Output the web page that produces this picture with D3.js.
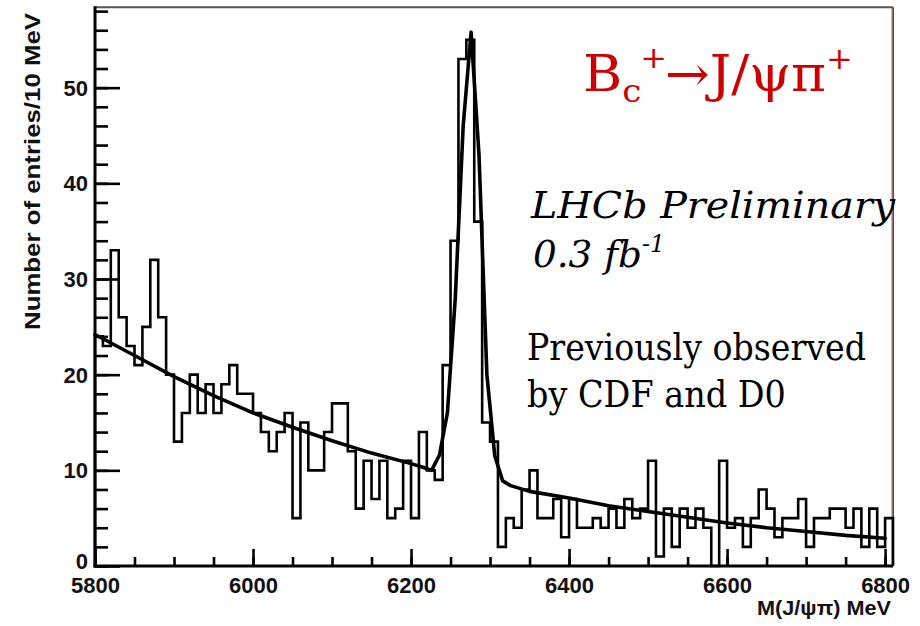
<!DOCTYPE html>
<html><head><meta charset="utf-8">
<script src="https://cdn.jsdelivr.net/npm/d3@7"></script>
<style>html,body{margin:0;padding:0;background:#fff;}svg{display:block}</style>
</head><body><svg id="c" width="920" height="626"></svg>
<script>
// ---- data ----
const binLow = 5800;          // MeV, lower edge of first bin
const binWidth = 10;          // MeV per bin
const counts = [
  24,23,33,26,23,21,25,32,26,20,
  13,16,20,16,19,16,19,21,18,18,
  16,14,12,14,16, 5,15,10,10,14,
  17,17,12, 6,11, 7,11, 5, 6,11,
   5,14,10, 9,21,34,53,55,36,15,
  13, 2, 5, 4, 8,10, 5, 5, 7, 3,
   7, 4, 4, 5, 4, 6, 4, 7, 5, 6,
  11, 1, 6, 2, 6, 4, 6, 4, 0,11,
   4, 5, 2, 5, 8, 6, 3, 5, 5, 7,
   2, 5, 5, 6, 6, 4, 6, 2, 6, 2,
   5
];
const fitMass  = [5800,5850,5900,5950,6000,6050,6100,6150,6200,6216,6226,6236,6246,6256,6266,6276,6286,6296,6306,6316,6326,6350,6400,6450,6500,6550,6600,6650,6700,6750,6800];
const fitValue = [24.2,22.0,19.8,17.8,16.0,14.5,13.1,11.8,10.7,10.3,10.0,11.6,16.0,28.0,46.0,55.8,43.0,20.0,11.5,8.9,8.4,7.8,7.1,6.3,5.7,5.1,4.5,4.0,3.6,3.2,2.9];
const xTickLabels = [5800,6000,6200,6400,6600,6800];
const xMinorStep = 50;
const yTickLabels = [0,10,20,30,40,50];
const yMinorStep = 2;
const xTitle = "M(J/\u03C8\u03C0) MeV";
const yTitle = "Number of entries/10 MeV";

// ---- layout ----
const svg = d3.select("#c");
const L = 95, R = 893, T = 7.3, B = 566;
const x = d3.scaleLinear().domain([5800, 6810]).range([L, R]);
const y = d3.scaleLinear().domain([0, 58.4]).range([B, T]);

// frame (top + right)
svg.append("line").attr("x1", L).attr("x2", R).attr("y1", T).attr("y2", T)
  .attr("stroke", "#555").attr("stroke-width", 2);
svg.append("line").attr("x1", R - 0.8).attr("x2", R - 0.8).attr("y1", T).attr("y2", B)
  .attr("stroke", "#666").attr("stroke-width", 1.2);
svg.append("line").attr("x1", R + 0.4).attr("x2", R + 0.4).attr("y1", T).attr("y2", B)
  .attr("stroke", "#e01010").attr("stroke-width", 1.2);

// histogram outline
const pts = [];
counts.forEach((c, i) => {
  const a = binLow + i * binWidth, b = a + binWidth;
  pts.push([a, c]); pts.push([b, c]);
});
pts.unshift([binLow, 0]);
pts.push([binLow + counts.length * binWidth, 0]);
svg.append("path")
  .attr("d", d3.line().x(d => x(d[0])).y(d => y(d[1]))(pts))
  .attr("fill", "none").attr("stroke", "#000").attr("stroke-width", 2.6)
  .attr("stroke-linejoin", "miter");

// fit curve
svg.append("path")
  .attr("d", d3.line().x((d, i) => x(fitMass[i])).y((d, i) => y(fitValue[i])).curve(d3.curveLinear)(fitMass))
  .attr("fill", "none").attr("stroke", "#000").attr("stroke-width", 3.6)
  .attr("stroke-linejoin", "round").attr("stroke-linecap", "round");

// axes
const axFont = "'Liberation Sans', Arial, Helvetica, sans-serif";
const yMinor = d3.range(0, 58.4 + 0.001, yMinorStep);
const xMinor = d3.range(5800, 6810, xMinorStep);

const gyMin = svg.append("g").attr("transform", `translate(${L},0)`)
  .call(d3.axisLeft(y).tickValues(yMinor).tickSize(-13).tickFormat(""));
const gy = svg.append("g").attr("transform", `translate(${L},0)`)
  .call(d3.axisLeft(y).tickValues(yTickLabels).tickSize(-25).tickPadding(7).tickFormat(d3.format("d")));
const gxMin = svg.append("g").attr("transform", `translate(0,${B})`)
  .call(d3.axisBottom(x).tickValues(xMinor).tickSize(-9).tickFormat(""));
const gx = svg.append("g").attr("transform", `translate(0,${B})`)
  .call(d3.axisBottom(x).tickValues(xTickLabels).tickSize(-17).tickPadding(12).tickFormat(d3.format("d")));

[gyMin, gy, gxMin, gx].forEach(g => {
  g.selectAll(".tick line").attr("stroke", "#000").attr("stroke-width", 2.6);
  g.select(".domain").remove();
  g.selectAll("text").attr("font-family", axFont).attr("font-weight", "bold")
    .attr("font-size", 22).attr("fill", "#111");
});
gx.selectAll("text").attr("dy", "0.66em");
gy.selectAll("text").attr("dy", d => d === 0 ? "0.1em" : "0.34em");

// axis lines
svg.append("line").attr("x1", L).attr("x2", L).attr("y1", T - 1).attr("y2", B + 1.5)
  .attr("stroke", "#000").attr("stroke-width", 3);
svg.append("line").attr("x1", L - 1.5).attr("x2", R).attr("y1", B).attr("y2", B)
  .attr("stroke", "#000").attr("stroke-width", 3);

// helper: place text group and stretch horizontally to a target width
function fitText(gSel, tx, ty, targetW) {
  const w = gSel.node().getBBox().width;
  const s = targetW / w;
  gSel.attr("transform", `translate(${tx},${ty}) scale(${s},1)`);
}

// axis titles
svg.append("text")
  .attr("transform", `translate(40,13) rotate(-90)`)
  .attr("text-anchor", "end")
  .attr("font-family", axFont).attr("font-weight", "bold").attr("font-size", 22)
  .attr("fill", "#111")
  .attr("textLength", 317).attr("lengthAdjust", "spacingAndGlyphs")
  .text(yTitle);

const xtG = svg.append("g");
xtG.append("text").attr("x", 0).attr("y", 0)
  .attr("font-family", axFont).attr("font-weight", "bold").attr("font-size", 21)
  .attr("fill", "#111").text(xTitle);
fitText(xtG, 757, 615, 134);

// annotations
const serif = "'DejaVu Serif', 'Liberation Serif', serif";
const tG = svg.append("g");
const tt = tG.append("text").attr("font-family", serif).attr("font-size", 50).attr("fill", "#cc0000");
tt.append("tspan").text("B");
tt.append("tspan").attr("font-size", 32).attr("dy", 11).text("c");
tt.append("tspan").attr("font-size", 30).attr("dy", -34).attr("dx", -1).text("+");
tt.append("tspan").attr("dy", 23).attr("dx", -2).text("\u2192J/\u03C8\u03C0");
tt.append("tspan").attr("font-size", 30).attr("dy", -22).text("+");
fitText(tG, 583, 90.7, 270);

const g1 = svg.append("g");
g1.append("text").attr("font-family", serif).attr("font-style", "italic")
  .attr("font-size", 38).attr("fill", "#000").text("LHCb Preliminary");
fitText(g1, 531, 218.3, 366);

const g2 = svg.append("g");
const t2 = g2.append("text").attr("font-family", serif).attr("font-style", "italic")
  .attr("font-size", 38).attr("fill", "#000");
t2.append("tspan").text("0.3 fb");
t2.append("tspan").attr("font-size", 24).attr("dy", -15).text("-1");
fitText(g2, 533, 266.7, 132);

const g3 = svg.append("g");
g3.append("text").attr("font-family", serif).attr("font-size", 37).attr("fill", "#000")
  .text("Previously observed");
fitText(g3, 527, 360, 339);

const g4 = svg.append("g");
g4.append("text").attr("font-family", serif).attr("font-size", 37).attr("fill", "#000")
  .text("by CDF and D0");
fitText(g4, 527, 406.5, 259);
</script></body></html>
